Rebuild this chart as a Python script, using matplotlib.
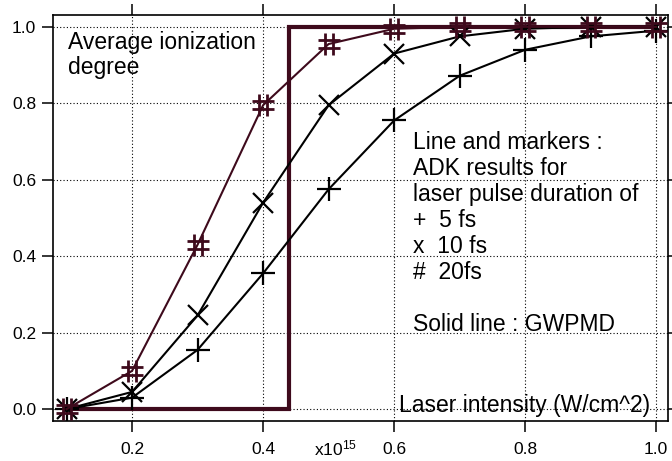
import matplotlib
matplotlib.use("Agg")
import matplotlib.pyplot as plt
from matplotlib.path import Path

plt.rcParams['font.family'] = ['Liberation Sans', 'DejaVu Sans']
plt.rcParams['mathtext.fontset'] = 'custom'
plt.rcParams['mathtext.rm'] = 'Liberation Sans'
plt.rcParams['mathtext.it'] = 'Liberation Sans'

# Data
intensity = [0.1, 0.2, 0.3, 0.4, 0.5, 0.6, 0.7, 0.8, 0.9, 1.0]
adk_5fs = [0.0, 0.03, 0.155, 0.355, 0.575, 0.755, 0.872, 0.94, 0.975, 0.99]
adk_10fs = [0.0, 0.045, 0.245, 0.54, 0.795, 0.93, 0.975, 0.995, 1.0, 1.0]
adk_20fs = [0.0, 0.10, 0.43, 0.795, 0.955, 0.995, 1.0, 1.0, 1.0, 1.0]
gwpmd_x = [0.1, 0.44, 0.44, 1.0]
gwpmd_y = [0.0, 0.0, 1.0, 1.0]
xticks = [0.2, 0.4, 0.6, 0.8, 1.0]
yticks = [0.0, 0.2, 0.4, 0.6, 0.8, 1.0]

maroon = '#3e0a1c'

hash_marker = Path(
    [(-0.35, -1), (-0.35, 1), (0.35, -1), (0.35, 1),
     (-1, -0.35), (1, -0.35), (-1, 0.35), (1, 0.35)],
    [Path.MOVETO, Path.LINETO, Path.MOVETO, Path.LINETO,
     Path.MOVETO, Path.LINETO, Path.MOVETO, Path.LINETO])

fig = plt.figure(figsize=(6.72, 4.61), dpi=100)
ax = fig.add_axes([0.0789, 0.0868, 0.9151, 0.8807])

ax.plot(gwpmd_x, gwpmd_y, color=maroon, lw=3.0, solid_joinstyle='miter', zorder=3)
ax.plot(intensity, adk_5fs, color='black', lw=1.5, marker='+', markersize=17,
        markeredgewidth=1.6, zorder=4)
ax.plot(intensity, adk_10fs, color='black', lw=1.5, marker='x', markersize=15,
        markeredgewidth=1.6, zorder=4)
ax.plot(intensity, adk_20fs, color=maroon, lw=1.5, marker=hash_marker, markersize=16,
        markeredgewidth=2.0, markeredgecolor=maroon, markerfacecolor='none', zorder=5)

ax.set_xlim(0.0794, 1.018)
ax.set_ylim(-0.031, 1.031)
ax.set_xticks(xticks)
ax.set_xticklabels([f"{v:.1f}" for v in xticks])
ax.set_yticks(yticks)
ax.set_yticklabels([f"{v:.1f}" for v in yticks])
ax.tick_params(direction='out', length=8, width=1.1, labelsize=12.5,
               top=True, right=True, labeltop=False, labelright=False, pad=4)
ax.tick_params(axis='x', pad=7)
ax.grid(True, color='black', linestyle=(0, (1, 2)), linewidth=0.8)
for s in ax.spines.values():
    s.set_linewidth(1.2)

ax.text(0.1025, 0.988, "Average ionization\ndegree", fontsize=16.5, va='top',
        ha='left', linespacing=1.08)
ax.text(0.629, 0.728, "Line and markers :\nADK results for\nlaser pulse duration of\n+  5 fs\nx  10 fs\n#  20fs\n\nSolid line : GWPMD",
        fontsize=16.5, va='top', ha='left', linespacing=1.17)
ax.text(0.6076, 0.01, "Laser intensity (W/cm^2)", fontsize=16.5, va='center', ha='left')
ax.text(0.511, -0.103, "x10$^{15}$", fontsize=12.5, va='center', ha='center')

fig.savefig("out.png", dpi=100)
